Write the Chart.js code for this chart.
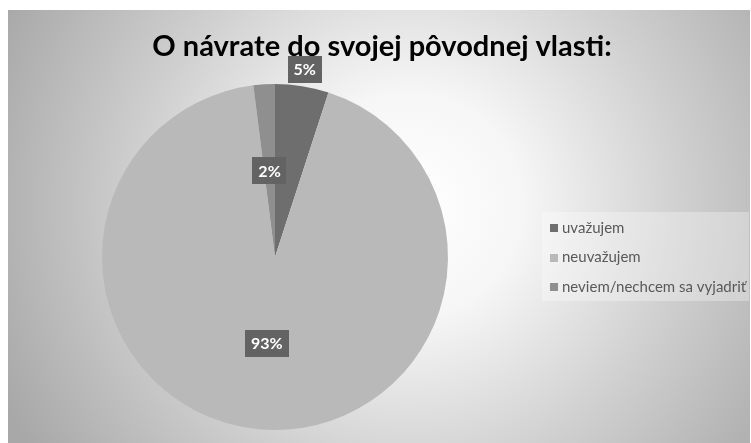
<!DOCTYPE html>
<html lang="sk">
<head>
  <meta charset="utf-8">
  <title>O návrate do svojej pôvodnej vlasti</title>
  <style type="text/css">
    body {
      margin: 0;
      background-color: #ffffff;
    }
    #graph {
      display: block;
    }
  </style>
  <script src="https://cdn.jsdelivr.net/npm/chart.js@4.4.1/dist/chart.umd.min.js"></script>
</head>
<body>
  <canvas id="graph" width="751" height="443"></canvas>
  <script>
    var chartTitle = 'O návrate do svojej pôvodnej vlasti:';
    var categories = ['uvažujem', 'neuvažujem', 'neviem/nechcem sa vyjadriť'];
    var shares = [5, 93, 2];
    var sliceColors = ['#6e6e6e', '#b9b9b9', '#8f8f8f'];
    // where each percent label sits, as a share of the pie radius
    var labelRadius = [1.1, 0.5, 0.5];

    var backgroundPlugin = {
      id: 'background',
      beforeDraw: function (chart) {
        var ctx = chart.ctx;
        ctx.save();
        ctx.fillStyle = '#ffffff';
        ctx.fillRect(0, 0, chart.width, chart.height);
        var g = ctx.createRadialGradient(410, 205, 0, 410, 205, 450);
        g.addColorStop(0, '#ffffff');
        g.addColorStop(0.25, '#f6f6f6');
        g.addColorStop(0.6, '#d0d0d0');
        g.addColorStop(1, '#a8a8a8');
        ctx.fillStyle = g;
        ctx.fillRect(8, 10, chart.width - 9, chart.height - 10);
        ctx.restore();
      }
    };

    var titlePlugin = {
      id: 'chartTitle',
      afterDraw: function (chart) {
        var ctx = chart.ctx;
        ctx.save();
        ctx.fillStyle = '#000000';
        ctx.font = 'bold 29px Lato';
        ctx.textAlign = 'center';
        ctx.textBaseline = 'alphabetic';
        ctx.fillText(chartTitle, 382, 56);
        ctx.restore();
      }
    };

    var dataLabelPlugin = {
      id: 'dataLabels',
      afterDatasetsDraw: function (chart) {
        var ctx = chart.ctx;
        var meta = chart.getDatasetMeta(0);
        ctx.save();
        ctx.font = 'bold 16px Lato';
        ctx.textAlign = 'center';
        ctx.textBaseline = 'middle';
        meta.data.forEach(function (arc, index) {
          var p = arc.getProps(['x', 'y', 'startAngle', 'endAngle', 'outerRadius'], true);
          var mid = (p.startAngle + p.endAngle) / 2;
          var r = p.outerRadius * labelRadius[index];
          var x = p.x + Math.cos(mid) * r;
          var y = p.y + Math.sin(mid) * r;
          var text = shares[index] + '%';
          var w = ctx.measureText(text).width + 12;
          var h = 27;
          ctx.fillStyle = '#636363';
          ctx.fillRect(Math.round(x - w / 2), Math.round(y - h / 2), Math.round(w), h);
          ctx.fillStyle = '#ffffff';
          ctx.fillText(text, x, y + 1);
        });
        ctx.restore();
      }
    };

    var legendPlugin = {
      id: 'sideLegend',
      afterDraw: function (chart) {
        var ctx = chart.ctx;
        var left = 542, top = 212, width = 207, height = 89;
        ctx.save();
        ctx.fillStyle = 'rgba(255,255,255,0.3)';
        ctx.fillRect(left, top, width, height);
        ctx.font = '15px Lato';
        ctx.textAlign = 'left';
        ctx.textBaseline = 'middle';
        categories.forEach(function (name, i) {
          var cy = top + 16 + i * 29.5;
          ctx.fillStyle = sliceColors[i];
          ctx.fillRect(left + 8, Math.round(cy - 4), 8, 8);
          ctx.fillStyle = '#595959';
          ctx.fillText(name, left + 20, cy);
        });
        ctx.restore();
      }
    };

    var ctx = document.getElementById('graph').getContext('2d');
    window.myChart = new Chart(ctx, {
      type: 'pie',
      data: {
        labels: categories,
        datasets: [
          {
            data: shares,
            backgroundColor: sliceColors,
            borderWidth: 0
          }
        ]
      },
      options: {
        responsive: false,
        animation: false,
        layout: {
          padding: { left: 102, right: 303, top: 84, bottom: 13 }
        },
        plugins: {
          legend: { display: false },
          tooltip: { enabled: false }
        }
      },
      plugins: [backgroundPlugin, dataLabelPlugin, titlePlugin, legendPlugin]
    });
  </script>
</body>
</html>
